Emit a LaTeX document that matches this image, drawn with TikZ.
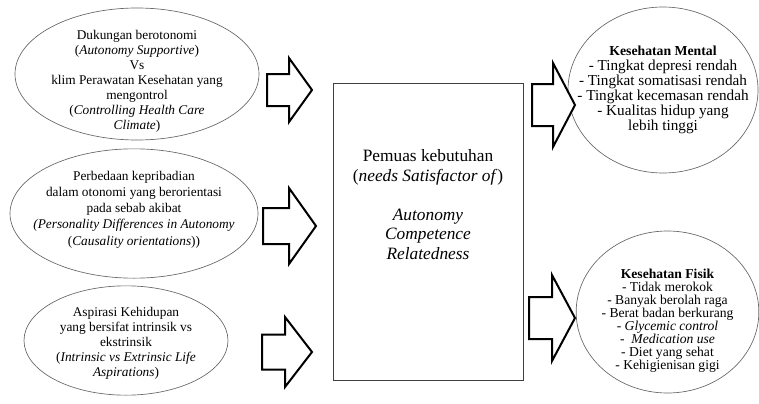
\documentclass[tikz,border=0pt]{standalone}
\usepackage{fontspec}
\setmainfont{Liberation Serif}
\usepackage{tikz}
\usetikzlibrary{positioning,shapes.geometric}

\begin{document}
\begin{tikzpicture} [x=0.75pt, y=-0.75pt,
  oval/.style={ellipse, draw=black!60, line width=0.5pt, inner sep=0pt},
  ovaltext/.style={align=center, inner sep=0pt, font=\fontsize{10}{11.25}\selectfont},
  needbox/.style={draw=black!75, line width=0.6pt, minimum width=142.5pt, minimum height=222.75pt, inner sep=0pt},
  blockarrow/.style={draw=black, line width=1.5pt, line join=miter, fill=white}]
\useasboundingbox (0,0) rectangle (759,403);

% left ovals
\node [oval, minimum width=183pt, minimum height=99pt] (otonomi) at (137,74) {};
\node [ovaltext] (otonomitext) at (137,81.5) {Dukungan berotonomi\\
  (\textit{Autonomy Supportive})\\ Vs\\ klim Perawatan Kesehatan yang\\ mengontrol\\
  (\textit{Controlling Health Care}\\ \textit{Climate})};

\node [oval, minimum width=186pt, minimum height=97pt] (pribadi) at (134,213.5) {};
\node [ovaltext, font=\fontsize{10}{12.2}\selectfont] (pribaditext) at (134,209.5) {Perbedaan kepribadian\\
  dalam otonomi yang berorientasi\\ pada sebab akibat\\
  \textit{(Personality Differences in Autonomy}\\ (\textit{Causality orientations}))};

\node [oval, minimum width=153pt, minimum height=82pt] (aspirasi) at (126,340.5) {};
\node [ovaltext] (aspirasitext) at (126,343) {Aspirasi Kehidupan\\
  yang bersifat intrinsik vs\\ ekstrinsik\\ (\textit{Intrinsic vs Extrinsic Life}\\
  \textit{Aspirations})};

% centre box
\node [needbox] (pemuas) at (428,231.5) {};
\node [align=center, inner sep=0pt, font=\fontsize{13}{14.6}\selectfont] (pemuastext) at (428,204.5)
  {Pemuas kebutuhan\\ (\textit{needs Satisfactor of})\\[14.6pt]
  \textit{Autonomy}\\ \textit{Competence}\\ \textit{Relatedness}};

% right ovals
\node [oval, minimum width=142.5pt, minimum height=124.5pt] (mental) at (663,90) {};
\node [ovaltext, font=\fontsize{11.4}{11.25}\selectfont] (mentaltext) at (663,90) {{\fontsize{10.3}{11.25}\selectfont\textbf{Kesehatan Mental}}\\
  - Tingkat depresi rendah\\ - Tingkat somatisasi rendah\\ - Tingkat kecemasan rendah\\
  - Kualitas hidup yang\\ lebih tinggi};

\node [oval, minimum width=137pt, minimum height=121.5pt] (fisik) at (667.5,312) {};
\node [ovaltext, font=\fontsize{10.2}{9.75}\selectfont] (fisiktext) at (667.5,320.5) {\textbf{Kesehatan Fisik}\\
  - Tidak merokok\\ - Banyak berolah raga\\ - Berat badan berkurang\\
  - \textit{Glycemic control}\\ -~ \textit{Medication use}\\ - Diet yang sehat\\ - Kehigienisan gigi};

% block arrows
\draw [blockarrow] (267,74) -- (289,74) -- (289,58) -- (312,90) -- (289,122) -- (289,106) -- (267,106) -- cycle;
\draw [blockarrow] (263,208) -- (289,208) -- (289,188) -- (316,226) -- (289,264) -- (289,244) -- (263,244) -- cycle;
\draw [blockarrow] (262,334.5) -- (285,334.5) -- (285,317) -- (312,352) -- (285,387) -- (285,369.5) -- (262,369.5) -- cycle;
\draw [blockarrow] (532,84) -- (553,84) -- (553,63) -- (575,105) -- (553,147) -- (553,126) -- (532,126) -- cycle;
\draw [blockarrow] (529,297) -- (552,297) -- (552,275) -- (575,318) -- (552,361) -- (552,339) -- (529,339) -- cycle;
\end{tikzpicture}
\end{document}
